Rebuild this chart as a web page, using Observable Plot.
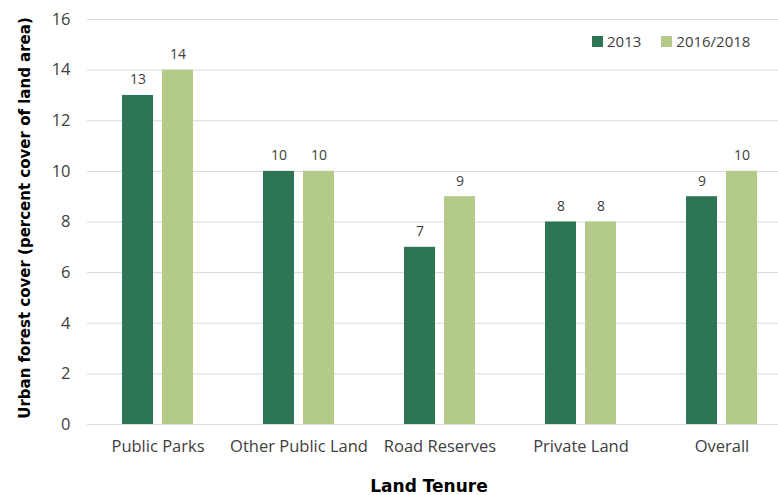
<!DOCTYPE html>
<html>
<head>
<meta charset="utf-8">
<script src="https://cdn.jsdelivr.net/npm/d3@7"></script>
<script src="https://cdn.jsdelivr.net/npm/@observablehq/plot@0.6"></script>
<style>
  html, body { margin: 0; padding: 0; background: #fff; overflow: hidden; }
  #wrap { position: relative; width: 778px; height: 495px; overflow: hidden; font-family: "Open Sans", sans-serif; color: #404040; }
  #legend { position: absolute; top: 31px; left: 592px; display: flex; align-items: center; font-size: 15px; color: #404040; }
  #legend .sw { width: 11px; height: 11px; display: inline-block; margin-right: 4px; }
  #legend .item { display: flex; align-items: center; margin-right: 20px; }
  #ytitle { position: absolute; left: 25px; top: 218px; line-height: 18px; transform: translate(-50%, -50%) rotate(-90deg); white-space: nowrap; font-family: "DejaVu Sans", sans-serif; font-weight: bold; font-size: 15px; color: #000; }
  #xtitle { position: absolute; left: 429px; top: 486px; line-height: 18px; transform: translate(-50%, -50%); white-space: nowrap; font-family: "DejaVu Sans", sans-serif; font-weight: bold; font-size: 17px; color: #000; }
</style>
</head>
<body>
<div id="wrap">
  <div id="chart"></div>
  <div id="legend"></div>
  <div id="ytitle">Urban forest cover (percent cover of land area)</div>
  <div id="xtitle">Land Tenure</div>
</div>
<script>
const categories = ["Public Parks", "Other Public Land", "Road Reserves", "Private Land", "Overall"];
const years = ["2013", "2016/2018"];
const values2013 = [13, 10, 7, 8, 9];
const values2016 = [14, 10, 9, 8, 10];
const yTicks = [0, 2, 4, 6, 8, 10, 12, 14, 16];
const colors = ["#2e7556", "#b3ca88"];

const data = [];
categories.forEach((c, i) => {
  data.push({cat: c, year: years[0], value: values2013[i]});
  data.push({cat: c, year: years[1], value: values2016[i]});
});

const chart = Plot.plot({
  width: 778,
  height: 495,
  marginLeft: 87,
  marginRight: -14,
  marginTop: 19,
  marginBottom: 71,
  style: {fontFamily: "'Open Sans', sans-serif", fontSize: "16.5px", color: "#404040", background: "white"},
  fx: {domain: categories, padding: 0, label: null, axis: "bottom", tickSize: 0, tickPadding: 16},
  x: {domain: years, paddingInner: 0.225, paddingOuter: 0.875, axis: null},
  y: {domain: [0, 16], ticks: yTicks, label: null, tickSize: 0, tickPadding: 17},
  color: {domain: years, range: colors},
  marks: [
    Plot.ruleY(yTicks, {stroke: "#d9d9d9", strokeWidth: 1}),
    Plot.barY(data, {fx: "cat", x: "year", y: "value", fill: "year"}),
    Plot.text(data, {fx: "cat", x: "year", y: "value", text: d => String(d.value), dy: -11, lineAnchor: "bottom", fontSize: 14, fill: "#404040"})
  ]
});
document.getElementById("chart").appendChild(chart);

const legend = document.getElementById("legend");
years.forEach((y, i) => {
  const item = document.createElement("span");
  item.className = "item";
  const sw = document.createElement("span");
  sw.className = "sw";
  sw.style.background = colors[i];
  item.appendChild(sw);
  item.appendChild(document.createTextNode(y));
  legend.appendChild(item);
});
</script>
</body>
</html>
